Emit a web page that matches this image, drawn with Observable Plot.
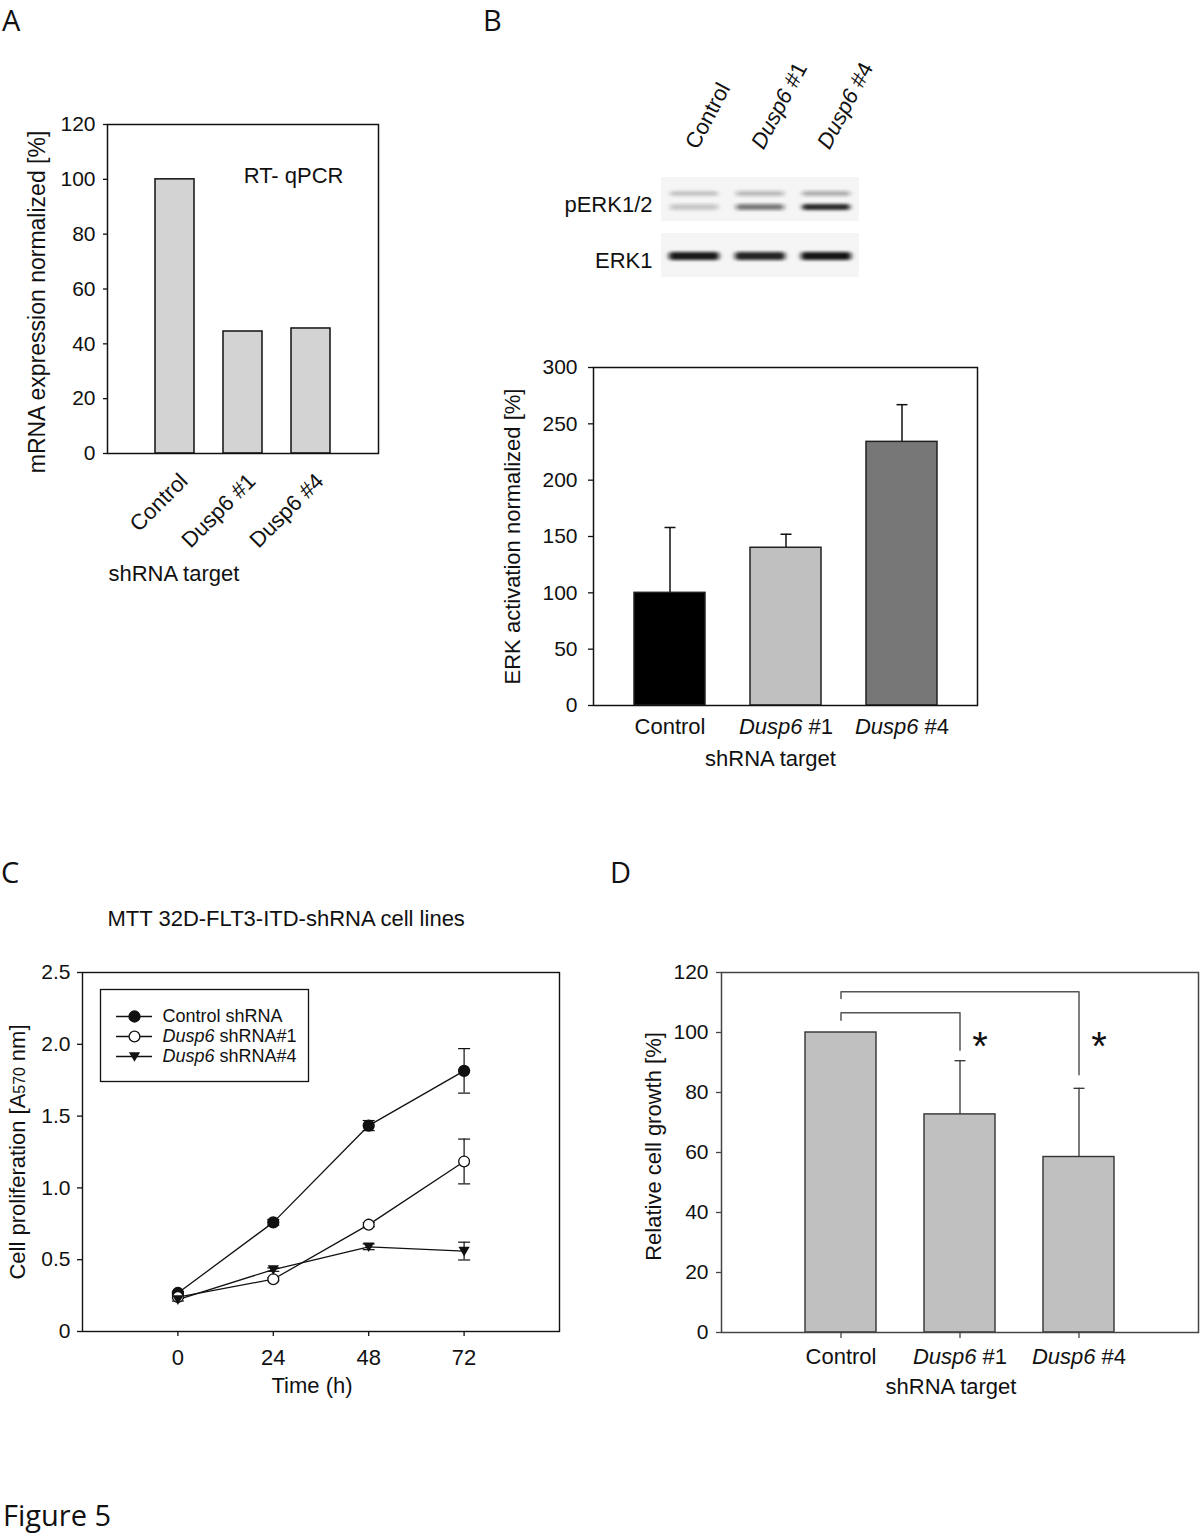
<!DOCTYPE html>
<html><head><meta charset="utf-8">
<script src="https://cdn.jsdelivr.net/npm/d3@7"></script>
<script src="https://cdn.jsdelivr.net/npm/@observablehq/plot@0.6"></script>
<style>
body{margin:0;background:#fff;}
#fig{position:relative;width:1200px;height:1535px;background:#fff;overflow:hidden;}
.letter{position:absolute;font-family:"Open Sans","Noto Sans",sans-serif;font-size:29px;line-height:1;color:#111;}
</style></head><body><div id="fig">
<div class="letter" style="left:2px;top:5px">A</div>
<div class="letter" style="left:483px;top:5px">B</div>
<div class="letter" style="left:1px;top:857px">C</div>
<div class="letter" style="left:610px;top:857px">D</div>
<div class="letter" style="left:3px;top:1500px">Figure 5</div>
</div>
<script>
// ---------------- data ----------------
const shrnaA = ["Control", "Dusp6 #1", "Dusp6 #4"];
const mrnaA = [100, 44.5, 45.6];

const blotLanes = ["Control", "Dusp6 #1", "Dusp6 #4"];
const blotPanels = ["pERK1/2", "ERK1"];
const pERKupper = [0.2, 0.28, 0.33];
const pERKlower = [0.22, 0.55, 0.92];
const erk1Band = [0.95, 0.9, 0.97];

const shrnaB = ["Control", "Dusp6 #1", "Dusp6 #4"];
const erkB = [100, 140, 234];
const erkErrB = [58, 12, 33];
const barFillB = ["#000000", "#c0c0c0", "#777777"];

const timeC = [0, 24, 48, 72];
const seriesC = ["Control shRNA", "Dusp6 shRNA#1", "Dusp6 shRNA#4"];
const controlC = [0.268, 0.76, 1.434, 1.815];
const controlErrC = [0.01, 0.02, 0.035, 0.155];
const dusp1C = [0.24, 0.364, 0.744, 1.184];
const dusp1ErrC = [0.01, 0.01, 0.015, 0.156];
const dusp4C = [0.222, 0.431, 0.59, 0.56];
const dusp4ErrC = [0.01, 0.012, 0.02, 0.062];
const yTicksC = [0, 0.5, 1, 1.5, 2, 2.5];

const shrnaD = ["Control", "Dusp6 #1", "Dusp6 #4"];
const growthD = [100, 72.7, 58.5];
const growthErrD = [0, 17.9, 22.9];
const bracketD1 = [["Control", 104.1], ["Control", 106.6], ["Dusp6 #1", 106.6], ["Dusp6 #1", 94.1]];
const bracketD2 = [["Control", 111.3], ["Control", 113.6], ["Dusp6 #4", 113.6], ["Dusp6 #4", 85.9]];
const starsD = [["Dusp6 #1", 95], ["Dusp6 #4", 95]];

// ---------------- helpers ----------------
const FONT = "'Liberation Sans', Arial, sans-serif";
const fig = document.getElementById("fig");
function place(el, left, top) {
  el.style.position = "absolute";
  el.style.left = left + "px";
  el.style.top = top + "px";
  fig.appendChild(el);
}
function baseStyle(fs) {
  return {fontFamily: FONT, fontSize: fs + "px", background: "none", overflow: "visible", color: "#111"};
}
const cap = {draw(ctx, size) { const w = Math.sqrt(size / Math.PI); ctx.moveTo(-w, 0); ctx.lineTo(w, 0); }};
const triDown = {draw(ctx, size) { const r = Math.sqrt(size / Math.PI); ctx.moveTo(-r, -r * 0.78); ctx.lineTo(r, -r * 0.78); ctx.lineTo(0, r * 0.95); ctx.closePath(); }};
function italicizeDusp(svg) {
  d3.select(svg).selectAll("text").each(function () {
    const t = this.textContent;
    const m = /^Dusp6(.*)$/.exec(t);
    if (!m) return;
    const s = d3.select(this);
    s.text(null);
    s.append("tspan").attr("font-style", "italic").text("Dusp6");
    s.append("tspan").text(m[1]);
  });
}

// ---------------- Panel A ----------------
const dataA = shrnaA.map((k, i) => ({k, v: mrnaA[i]}));
const plotA = Plot.plot({
  width: 420, height: 610, marginLeft: 107, marginRight: 42, marginTop: 124, marginBottom: 157,
  style: baseStyle(21),
  x: {type: "band", domain: shrnaA, paddingInner: 0.42, paddingOuter: 0.7, axis: null},
  y: {domain: [0, 120]},
  marks: [
    Plot.barY(dataA, {x: "k", y: "v", fill: "#d3d3d3", stroke: "#111", strokeWidth: 1.5}),
    Plot.frame({stroke: "#111", strokeWidth: 1.5}),
    Plot.axisY({ticks: d3.range(0, 121, 20), tickSize: 4, tickPadding: 8, label: null, strokeWidth: 1.3}),
    Plot.text(shrnaA, {x: d => d, text: d => d, frameAnchor: "bottom", rotate: -45, textAnchor: "end", lineAnchor: "bottom", dx: 14, dy: 29, fontSize: 22}),
    Plot.text(["RT- qPCR"], {text: d => d, frameAnchor: "top-right", textAnchor: "end", dx: -35, dy: 43, fontSize: 22}),
    Plot.text(["mRNA expression normalized [%]"], {text: d => d, frameAnchor: "left", textAnchor: "middle", rotate: -90, dx: -70, dy: 13, fontSize: 23}),
    Plot.text(["shRNA target"], {text: d => d, frameAnchor: "bottom-left", textAnchor: "start", dx: 1, dy: 127, fontSize: 22})
  ]
});
place(plotA, 0, 0);

// ---------------- Panel B: blot ----------------
const blotBg = blotPanels.flatMap(p => blotLanes.map(l => ({lane: l, panel: p})));
const upperB = blotLanes.map((l, i) => ({lane: l, panel: "pERK1/2", a: pERKupper[i]}));
const lowerB = blotLanes.map((l, i) => ({lane: l, panel: "pERK1/2", a: pERKlower[i]}));
const erkBand = blotLanes.map((l, i) => ({lane: l, panel: "ERK1", a: erk1Band[i]}));
const plotBlot = Plot.plot({
  width: 420, height: 290, marginLeft: 180, marginRight: 40, marginTop: 177, marginBottom: 13,
  style: baseStyle(22),
  x: {type: "band", domain: blotLanes, padding: 0, axis: null},
  y: {type: "band", domain: blotPanels, paddingInner: 0.22, paddingOuter: 0, axis: null},
  marks: [
    Plot.cell(blotBg, {x: "lane", y: "panel", fill: "#f5f5f5"}),
    Plot.cell(upperB, {x: "lane", y: "panel", fill: "#1a1a1a", fillOpacity: "a", insetTop: 14, insetBottom: 25, insetLeft: 9, insetRight: 9, rx: 3, ariaDescription: "blot-bands"}),
    Plot.cell(lowerB, {x: "lane", y: "panel", fill: "#1a1a1a", fillOpacity: "a", insetTop: 27, insetBottom: 11, insetLeft: 9, insetRight: 9, rx: 3, ariaDescription: "blot-bands"}),
    Plot.cell(erkBand, {x: "lane", y: "panel", fill: "#111", fillOpacity: "a", insetTop: 19, insetBottom: 17, insetLeft: 8, insetRight: 8, rx: 3, ariaDescription: "blot-bands"}),
    Plot.text(blotLanes, {x: d => d, text: d => d, frameAnchor: "top", rotate: -62, textAnchor: "start", lineAnchor: "bottom", dx: 3, dy: -27, fontSize: 22}),
    Plot.text(blotPanels, {y: d => d, text: d => d, frameAnchor: "left", textAnchor: "end", dx: -8, dy: 5, fontSize: 22})
  ]
});
{
  const s = d3.select(plotBlot);
  s.append("defs").append("filter").attr("id", "blotblur").attr("filterUnits", "userSpaceOnUse")
    .attr("x", 0).attr("y", 0).attr("width", 420).attr("height", 290)
    .append("feGaussianBlur").attr("stdDeviation", "2.6 1.6");
  s.selectAll('g[aria-description="blot-bands"]').attr("filter", "url(#blotblur)");
}
italicizeDusp(plotBlot);
place(plotBlot, 480, 0);

// ---------------- Panel B: bars ----------------
const dataB = shrnaB.map((k, i) => ({k, v: erkB[i], e: erkErrB[i]}));
const plotB = Plot.plot({
  width: 520, height: 460, marginLeft: 113, marginRight: 23, marginTop: 27, marginBottom: 95,
  style: baseStyle(21),
  x: {type: "band", domain: shrnaB, paddingInner: 0.391, paddingOuter: 0.339},
  y: {domain: [0, 300]},
  color: {domain: shrnaB, range: barFillB},
  marks: [
    Plot.ruleX(dataB, {x: "k", y1: "v", y2: d => d.v + d.e, stroke: "#111", strokeWidth: 1.5}),
    Plot.dot(dataB, {x: "k", y: d => d.v + d.e, symbol: cap, r: 5.5, fill: "none", stroke: "#111", strokeWidth: 1.5}),
    Plot.barY(dataB, {x: "k", y: "v", fill: "k", stroke: "#222", strokeWidth: 1.5}),
    Plot.frame({stroke: "#111", strokeWidth: 1.5}),
    Plot.axisY({ticks: d3.range(0, 301, 50), tickSize: 5, tickPadding: 11, label: null, strokeWidth: 1.3}),
    Plot.axisX({tickSize: 0, tickPadding: 13, label: null, fontSize: 22}),
    Plot.text(["ERK activation normalized [%]"], {text: d => d, frameAnchor: "left", textAnchor: "middle", rotate: -90, dx: -81, dy: 0, fontSize: 22}),
    Plot.text(["shRNA target"], {text: d => d, frameAnchor: "bottom", dx: -15, dy: 60, fontSize: 22})
  ]
});
italicizeDusp(plotB);
place(plotB, 480, 340);

// ---------------- Panel C ----------------
const valsC = [controlC, dusp1C, dusp4C];
const errsC = [controlErrC, dusp1ErrC, dusp4ErrC];
const dataC = seriesC.flatMap((s, si) => timeC.map((t, ti) => ({series: s, t, v: valsC[si][ti], e: errsC[si][ti]})));
const yLabelC = "Cell proliferation [A570 nm]";
const plotC = Plot.plot({
  width: 570, height: 540, marginLeft: 82, marginRight: 11, marginTop: 92, marginBottom: 89,
  style: baseStyle(21),
  x: {domain: [-24, 96]},
  y: {domain: [0, 2.5]},
  marks: [
    Plot.frame({stroke: "#111", strokeWidth: 1.4}),
    Plot.axisY({ticks: yTicksC, tickFormat: d => d === 0 ? "0" : d.toFixed(1), tickSize: 5, tickPadding: 7, label: null, strokeWidth: 1.3}),
    Plot.axisX({ticks: timeC, tickSize: 5, tickPadding: 13, label: null, fontSize: 22, strokeWidth: 1.3}),
    Plot.ruleX(dataC, {x: "t", y1: d => d.v - d.e, y2: d => d.v + d.e, stroke: "#111", strokeWidth: 1.2}),
    Plot.dot(dataC, {x: "t", y: d => d.v + d.e, symbol: cap, r: 6, fill: "none", stroke: "#111", strokeWidth: 1.2}),
    Plot.dot(dataC, {x: "t", y: d => d.v - d.e, symbol: cap, r: 6, fill: "none", stroke: "#111", strokeWidth: 1.2}),
    Plot.line(dataC, {x: "t", y: "v", z: "series", stroke: "#111", strokeWidth: 1.3}),
    Plot.dot(dataC, {filter: d => d.series === seriesC[0], x: "t", y: "v", r: 5.4, fill: "#111", stroke: "#111"}),
    Plot.dot(dataC, {filter: d => d.series === seriesC[1], x: "t", y: "v", r: 5.4, fill: "#fff", stroke: "#111", strokeWidth: 1.3}),
    Plot.dot(dataC, {filter: d => d.series === seriesC[2], x: "t", y: "v", symbol: triDown, r: 5.6, fill: "#111", stroke: "none"}),
    Plot.text(["MTT 32D-FLT3-ITD-shRNA cell lines"], {text: d => d, frameAnchor: "top-left", textAnchor: "start", dx: 25, dy: -62, fontSize: 22}),
    Plot.text([yLabelC], {text: d => d, frameAnchor: "left", textAnchor: "middle", rotate: -90, dx: -65, dy: 0, fontSize: 22}),
    Plot.text(["Time (h)"], {text: d => d, frameAnchor: "bottom", dx: -9, dy: 61, fontSize: 22})
  ]
});
d3.select(plotC).selectAll("text").filter(function () { return this.textContent === yLabelC; }).each(function () {
  const s = d3.select(this);
  s.text(null);
  s.append("tspan").text("Cell proliferation [A");
  s.append("tspan").attr("font-size", "0.72em").text("570");
  s.append("tspan").text(" nm]");
});
place(plotC, 0, 880);

// legend for C
const plotLegend = Plot.plot({
  width: 210, height: 94, marginLeft: 1, marginRight: 1, marginTop: 1, marginBottom: 1,
  style: baseStyle(18),
  x: {domain: [0, 1], range: [17, 53], axis: null},
  y: {type: "point", domain: seriesC, range: [27, 68], padding: 0, axis: null},
  marks: [
    Plot.frame({stroke: "#111", strokeWidth: 1.3}),
    Plot.ruleY(seriesC, {y: d => d, x1: () => 0, x2: () => 1, stroke: "#111", strokeWidth: 1.3}),
    Plot.dot([seriesC[0]], {y: d => d, x: () => 0.5, r: 5.4, fill: "#111", stroke: "#111"}),
    Plot.dot([seriesC[1]], {y: d => d, x: () => 0.5, r: 5.4, fill: "#fff", stroke: "#111", strokeWidth: 1.3}),
    Plot.dot([seriesC[2]], {y: d => d, x: () => 0.5, symbol: triDown, r: 5.6, fill: "#111", stroke: "none"}),
    Plot.text(seriesC, {y: d => d, x: () => 1, text: d => d, textAnchor: "start", dx: 10, fontSize: 18})
  ]
});
italicizeDusp(plotLegend);
place(plotLegend, 99, 988);

// ---------------- Panel D ----------------
const dataD = shrnaD.map((k, i) => ({k, v: growthD[i], e: growthErrD[i]}));
const errD = dataD.filter(d => d.e > 0);
const bracketPts = [bracketD1, bracketD2].flatMap((b, bi) => b.map(([x, y]) => ({id: bi, x, y})));
const starData = starsD.map(([k, y]) => ({k, y}));
const plotD = Plot.plot({
  width: 600, height: 540, marginLeft: 121, marginRight: 2, marginTop: 92, marginBottom: 88,
  style: baseStyle(21),
  x: {type: "band", domain: shrnaD, paddingInner: 0.405, paddingOuter: 0.702},
  y: {domain: [0, 120]},
  marks: [
    Plot.ruleX(errD, {x: "k", y1: "v", y2: d => d.v + d.e, stroke: "#333", strokeWidth: 1.3}),
    Plot.dot(errD, {x: "k", y: d => d.v + d.e, symbol: cap, r: 5.5, fill: "none", stroke: "#333", strokeWidth: 1.3}),
    Plot.barY(dataD, {x: "k", y: "v", fill: "#c0c0c0", stroke: "#333", strokeWidth: 1.4}),
    Plot.line(bracketPts, {x: "x", y: "y", z: "id", stroke: "#555", strokeWidth: 1.5}),
    Plot.text(starData, {x: "k", y: "y", text: () => "*", dx: 20, fontSize: 40}),
    Plot.frame({stroke: "#444", strokeWidth: 1.5}),
    Plot.axisY({ticks: d3.range(0, 121, 20), tickSize: 5, tickPadding: 8, label: null, stroke: "#444", strokeWidth: 1.3}),
    Plot.axisX({tickSize: 6, tickPadding: 10, label: null, fontSize: 22, stroke: "#444", strokeWidth: 1.3}),
    Plot.text(["Relative cell growth [%]"], {text: d => d, frameAnchor: "left", textAnchor: "middle", rotate: -90, dx: -68, dy: -6, fontSize: 22}),
    Plot.text(["shRNA target"], {text: d => d, frameAnchor: "bottom", dx: -9, dy: 61, fontSize: 22})
  ]
});
italicizeDusp(plotD);
place(plotD, 600, 880);
</script>
</body></html>
